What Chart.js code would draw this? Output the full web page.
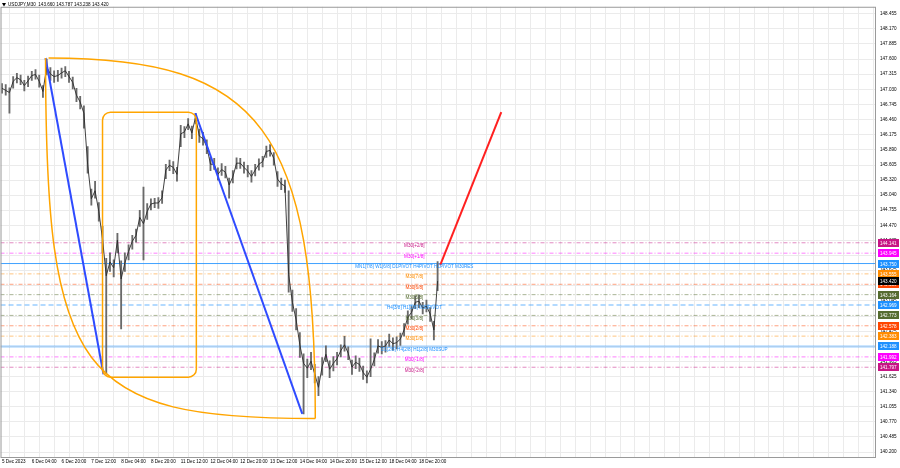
<!DOCTYPE html>
<html>
<head>
<meta charset="utf-8">
<title>USDJPY M30</title>
<script src="https://cdn.jsdelivr.net/npm/chart.js@4.4.0/dist/chart.umd.min.js"></script>
<style>
  html, body { margin: 0; padding: 0; background: #fff; }
  #wrap { width: 900px; height: 468px; position: relative; }
</style>
</head>
<body>
<div id="wrap"><canvas id="chart"></canvas></div>
<script>
// bars sampled every 2 hours, hour 0 = 5 Dec 12:00
const stepHours = 2;
const closes = [
  147.05, 147.01, 146.97, 147.18, 147.25, 147.21, 147.10, 147.19, 147.29, 147.31,
  147.18, 146.99, 147.45, 147.32, 147.27, 147.29, 147.34, 147.38, 147.27, 147.16,
  146.92, 146.79, 146.58, 145.62, 144.97, 145.12, 144.73, 144.21, 143.52, 143.78,
  143.67, 144.19, 143.46, 143.76, 143.98, 144.17, 144.28, 144.62, 144.50, 144.73,
  144.87, 144.89, 144.89, 144.99, 145.51, 145.60, 145.56, 145.43, 146.19, 146.23,
  146.38, 146.21, 146.51, 146.15, 146.10, 145.95, 145.62, 145.62, 145.43, 145.52,
  145.47, 145.23, 145.38, 145.64, 145.64, 145.56, 145.49, 145.39, 145.51, 145.62,
  145.67, 145.86, 145.88, 145.73, 145.34, 145.25, 145.21, 143.54, 143.02, 142.69,
  142.22, 141.87, 141.78, 141.91, 141.67, 141.42, 141.81, 142.04, 141.76, 141.87,
  141.96, 142.11, 142.22, 142.06, 141.80, 141.89, 141.85, 141.70, 141.61, 141.76,
  141.94, 142.20, 142.17, 142.20, 142.31, 142.24, 142.26, 142.33, 142.50, 142.74,
  142.83, 143.02, 143.04, 142.91, 142.95, 142.80, 142.50, 143.42
];
const highs = [
  147.14, 147.12, 147.06, 147.27, 147.33, 147.30, 147.20, 147.28, 147.37, 147.40,
  147.30, 147.10, 147.60, 147.44, 147.38, 147.39, 147.43, 147.46, 147.37, 147.26,
  147.05, 146.90, 146.72, 145.95, 145.15, 145.30, 144.90, 144.45, 143.85, 143.95,
  143.82, 144.32, 143.80, 143.95, 144.10, 144.28, 144.40, 144.75, 145.19, 144.88,
  144.97, 144.98, 144.99, 145.12, 145.62, 145.70, 145.67, 145.56, 146.35, 146.33,
  146.48, 146.34, 146.58, 146.28, 146.22, 146.08, 145.75, 145.73, 145.55, 145.63,
  145.58, 145.36, 145.50, 145.74, 145.73, 145.66, 145.60, 145.50, 145.62, 145.72,
  145.77, 145.96, 145.99, 145.84, 145.48, 145.36, 145.32, 145.12, 143.25, 142.90,
  142.45, 142.05, 141.95, 142.08, 141.85, 141.62, 141.98, 142.20, 141.92, 142.00,
  142.08, 142.22, 142.38, 142.18, 141.93, 142.01, 141.97, 141.82, 141.73, 142.33,
  142.07, 142.32, 142.28, 142.30, 142.42, 142.35, 142.37, 142.44, 142.62, 142.86,
  142.95, 143.14, 143.16, 143.02, 143.06, 142.92, 142.66, 143.787
];
const lows = [
  146.96, 146.92, 146.58, 147.05, 147.15, 147.12, 147.00, 147.08, 147.20, 147.22,
  147.07, 146.88, 147.30, 147.20, 147.16, 147.18, 147.24, 147.27, 147.16, 147.04,
  146.80, 146.66, 146.30, 145.45, 144.85, 144.98, 144.55, 143.95, 141.67, 143.60,
  143.50, 143.95, 142.52, 143.60, 143.82, 144.02, 144.15, 144.45, 143.82, 144.58,
  144.76, 144.80, 144.79, 144.88, 145.35, 145.50, 145.44, 145.30, 145.95, 146.12,
  146.27, 146.10, 146.38, 146.03, 145.98, 145.82, 145.50, 145.52, 145.32, 145.41,
  145.36, 144.98, 145.27, 145.53, 145.54, 145.45, 145.38, 145.28, 145.40, 145.51,
  145.57, 145.75, 145.77, 145.60, 145.20, 145.14, 145.09, 143.21, 142.85, 142.50,
  141.98, 140.92, 141.60, 141.75, 141.50, 141.26, 141.65, 141.90, 141.60, 141.73,
  141.84, 141.99, 142.10, 141.94, 141.66, 141.77, 141.72, 141.57, 141.50, 141.62,
  141.82, 142.06, 142.05, 142.08, 142.19, 142.12, 142.14, 142.21, 142.38, 142.61,
  142.71, 142.90, 142.92, 142.80, 142.84, 142.66, 142.31, 143.238
];

// one date label every 16 hours
const dateLabels = [
  '5 Dec 2023', '6 Dec 04:00', '6 Dec 20:00', '7 Dec 12:00', '8 Dec 04:00',
  '8 Dec 20:00', '11 Dec 12:00', '12 Dec 04:00', '12 Dec 20:00', '13 Dec 12:00',
  '14 Dec 04:00', '14 Dec 20:00', '15 Dec 12:00', '18 Dec 04:00', '18 Dec 20:00'
];
const priceTicks = [
  148.455, 148.170, 147.885, 147.600, 147.315, 147.030, 146.745, 146.460, 146.175, 145.890,
  145.605, 145.320, 145.040, 144.755, 144.470, 144.185, 143.905, 143.625, 143.335, 143.045,
  142.760, 142.475, 142.190, 141.905, 141.625, 141.340, 141.055, 140.770, 140.485, 140.200
];

const levelPrices = [144.141, 143.945, 143.750, 143.555, 143.359, 143.164, 142.969,
                     142.773, 142.578, 142.383, 142.188, 141.992, 141.797];
const levelNames = [
  'M30[+2/8]', 'M30[+1/8]', 'MN1[7/8] W1[6/8] D1PIVOT H4PIVOT H1PIVOT M30RES',
  'M30[7/8]', 'M30[6/8]', 'M30[5/8]', 'H4[3/8] H1[3/8] M30PIVOT', 'M30[3/8]',
  'M30[2/8]', 'M30[1/8]', 'D1[2/8] H4[2/8] H1[2/8] M30SUP', 'M30[-1/8]', 'M30[-2/8]'
];
const levelColors = ['#c71585', '#ff00ff', '#1e90ff', '#ff8c00', '#ff4500', '#556b2f', '#1e90ff',
                     '#556b2f', '#ff4500', '#ff8c00', '#1e90ff', '#ff00ff', '#c71585'];
const levelLabelHour = 221.5;
const lastPrice = 143.420;
const header = 'USDJPY,M30  143.660 143.787 143.238 143.420';

// drawn objects: [hour, price]
const trendLine1 = [[23.4, 147.62], [54.5, 141.665]];
const trendLine2 = [[103.9, 146.58], [161.3, 140.92]];
const targetLine = [[235.4, 143.72], [268.2, 146.60]];
const boxCorners = [[54.0, 146.60], [104.4, 141.61]];
const arcCorners = [[23.4, 147.62], [168.3, 140.83]];

const xMin = -0.8, xMax = 469.5;
const yMin = 140.107, yMax = 148.585;
const FONT = '"Liberation Sans", Arial, sans-serif';
const FS = 4.6;

function hexA(hex, a) {
  const n = parseInt(hex.slice(1), 16);
  return `rgba(${n >> 16},${(n >> 8) & 255},${n & 255},${a})`;
}

function levelDataset(p, i) {
  const name = levelNames[i], col = levelColors[i];
  let dash = [4, 2, 1, 2], width = 1, color = hexA(col, 0.5);
  if (name.endsWith('RES')) { dash = []; color = hexA(col, 0.85); }
  else if (name.endsWith('SUP')) { dash = []; width = 2.5; color = hexA(col, 0.3); }
  else if (name.endsWith('PIVOT')) { dash = [5, 3]; width = 1.5; color = hexA(col, 0.45); }
  return {
    type: 'line',
    data: [{x: xMin, y: p}, {x: xMax, y: p}],
    borderColor: color, borderWidth: width, borderDash: dash,
    pointRadius: 0, order: 6
  };
}

function segment(points, color, width) {
  return {
    type: 'line',
    data: points.map(([t, p]) => ({x: t, y: p})),
    borderColor: color, borderWidth: width, pointRadius: 0, order: 1
  };
}

const overlay = {
  id: 'overlay',
  afterDatasetsDraw(chart) {
    const {ctx, chartArea: a, scales: {x, y}} = chart;
    ctx.save();
    ctx.beginPath();
    ctx.rect(a.left, a.top, a.width, a.height);
    ctx.clip();

    // orange drawings
    ctx.strokeStyle = '#ffa500';
    ctx.lineWidth = 1.5;
    const [[bt0, bp0], [bt1, bp1]] = boxCorners;
    const bx = x.getPixelForValue(bt0), by = y.getPixelForValue(bp0);
    ctx.beginPath();
    ctx.roundRect(bx, by, x.getPixelForValue(bt1) - bx, y.getPixelForValue(bp1) - by, 8);
    ctx.stroke();

    const [[at0, ap0], [at1, ap1]] = arcCorners;
    const xa = x.getPixelForValue(at0), ya = y.getPixelForValue(ap0);
    const xb = x.getPixelForValue(at1), yb = y.getPixelForValue(ap1);
    const w = xb - xa, h = yb - ya;
    ctx.beginPath();
    ctx.moveTo(xa + 3, ya);
    ctx.bezierCurveTo(xa + 3 + 0.8 * (w - 3), ya, xb, yb - 0.8 * h, xb, yb);
    ctx.moveTo(xa, ya);
    ctx.bezierCurveTo(xa, ya + 0.88 * h, xb - 0.88 * w, yb, xb, yb);
    ctx.stroke();

    // level names
    ctx.font = `${FS}px ${FONT}`;
    ctx.textAlign = 'center';
    ctx.textBaseline = 'top';
    const lx = x.getPixelForValue(levelLabelHour);
    levelPrices.forEach((p, i) => {
      ctx.fillStyle = levelColors[i];
      ctx.fillText(levelNames[i], lx, y.getPixelForValue(p) + 0.8);
    });
    ctx.restore();
  },
  afterDraw(chart) {
    const {ctx, chartArea: a, scales: {y}} = chart;
    ctx.save();
    // frame
    ctx.strokeStyle = '#9a9a9a';
    ctx.lineWidth = 1;
    ctx.strokeRect(a.left + 0.5, a.top + 0.5, a.width - 1, a.height);

    // price tags on the axis
    ctx.font = `${FS}px ${FONT}`;
    ctx.textAlign = 'left';
    ctx.textBaseline = 'middle';
    const tags = levelPrices.map((p, i) => [p, levelColors[i]]);
    tags.push([lastPrice, '#000000']);
    tags.forEach(([p, col]) => {
      const yy = Math.round(y.getPixelForValue(p));
      ctx.fillStyle = col;
      ctx.fillRect(a.right + 2, yy - 4, 21, 8);
      ctx.fillStyle = '#ffffff';
      ctx.fillText(p.toFixed(3), a.right + 4, yy + 0.3);
    });

    // header
    ctx.fillStyle = '#000';
    ctx.beginPath();
    ctx.moveTo(2, 3); ctx.lineTo(6, 3); ctx.lineTo(4, 6.5); ctx.closePath();
    ctx.fill();
    ctx.fillText(header, 8, 5);
    ctx.restore();
  }
};

const datasets = [
  segment(targetLine, '#ff2020', 2),
  segment(trendLine1, '#2f4bff', 2),
  segment(trendLine2, '#2f4bff', 2),
  {
    type: 'line',
    data: closes.map((c, i) => ({x: i * stepHours, y: c})),
    borderColor: '#2a2a2a', borderWidth: 0.9, pointRadius: 0, order: 3
  },
  {
    type: 'bar',
    data: closes.map((c, i) => ({x: i * stepHours, y: [lows[i], highs[i]]})),
    backgroundColor: '#6a6a6a', barThickness: 1.2, order: 4
  },
  ...levelPrices.map(levelDataset)
];

new Chart(document.getElementById('chart'), {
  type: 'line',
  data: {datasets},
  options: {
    responsive: true,
    maintainAspectRatio: false,
    animation: false,
    devicePixelRatio: 1,
    layout: {padding: 0},
    plugins: {legend: {display: false}, tooltip: {enabled: false}, title: {display: false}},
    scales: {
      x: {
        type: 'linear', min: xMin, max: xMax, offset: false,
        afterBuildTicks: s => {
          const t = [];
          for (let hr = 0; hr <= xMax; hr += 8) t.push({value: hr});
          s.ticks = t;
        },
        afterFit: s => { s.height = 11; },
        ticks: {
          autoSkip: false, maxRotation: 0, minRotation: 0, align: 'start', padding: 2,
          color: '#000', font: {family: FONT, size: FS},
          callback: v => (v % 16 === 0 && dateLabels[v / 16]) ? dateLabels[v / 16] : ''
        },
        grid: {color: '#ebebeb', drawTicks: false},
        border: {display: false}
      },
      y: {
        position: 'right', min: yMin, max: yMax,
        afterBuildTicks: s => { s.ticks = priceTicks.map(v => ({value: v})); },
        afterFit: s => { s.width = 24; },
        ticks: {
          padding: 4, color: '#000', font: {family: FONT, size: FS},
          callback: v => v.toFixed(3)
        },
        grid: {color: '#ebebeb', drawTicks: false},
        border: {display: false}
      }
    }
  },
  plugins: [overlay]
});
</script>
</body>
</html>
